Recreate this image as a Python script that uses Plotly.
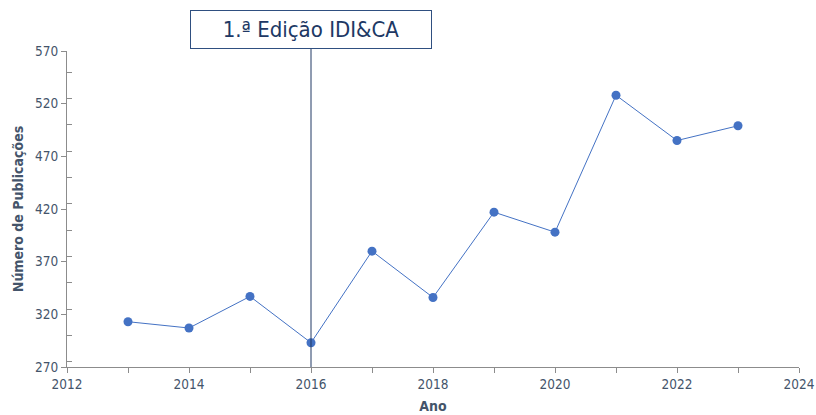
import plotly.graph_objects as go

years = [2013, 2014, 2015, 2016, 2017, 2018, 2019, 2020, 2021, 2022, 2023]
publications = [313, 307, 337, 293, 380, 336, 417, 398, 528, 485, 499]
marker_year = 2016
marker_label = "1.ª Edição IDI&CA"

FONT = "DejaVu Sans Condensed, DejaVu Sans, sans-serif"
TXT = "#44546a"
AX = "#8c8c8c"

fig = go.Figure()
fig.add_trace(go.Scatter(
    x=years, y=publications, mode="lines+markers",
    line=dict(color="#4472c4", width=1),
    marker=dict(color="#4472c4", size=9),
    showlegend=False,
))

fig.add_shape(type="line", xref="x", yref="paper", x0=marker_year, x1=marker_year,
              y0=0, y1=1.01, line=dict(color="#203864", width=1))

fig.add_annotation(
    x=marker_year, xref="x", y=1, yref="paper", yanchor="bottom", yshift=2,
    text=marker_label, showarrow=False,
    font=dict(family=FONT, size=22, color="#203864"),
    bordercolor="#2f4f80", borderwidth=1, borderpad=0,
    bgcolor="white", width=240, height=37,
)

fig.update_layout(
    width=816, height=415,
    margin=dict(l=67, r=17, t=51, b=48),
    paper_bgcolor="white", plot_bgcolor="white",
    font=dict(family=FONT, size=14, color=TXT),
)
fig.update_xaxes(
    range=[2012, 2024], dtick=2, tick0=2012, automargin=False,
    showgrid=False, zeroline=False,
    showline=True, linecolor=AX, linewidth=1,
    ticks="outside", ticklen=5, tickcolor=AX,
    minor=dict(dtick=1, ticks="outside", ticklen=5, tickcolor=AX, showgrid=False),
    tickfont=dict(family=FONT, size=13.5, color=TXT),
    ticklabeloverflow="allow",
    title=dict(text="<b>Ano</b>", font=dict(family=FONT, size=14, color=TXT), standoff=9),
)
fig.update_yaxes(
    range=[270, 570], dtick=50, tick0=270, automargin=False,
    showgrid=False, zeroline=False,
    showline=True, linecolor=AX, linewidth=1,
    ticks="outside", ticklen=5, tickcolor=AX,
    minor=dict(dtick=25, ticks="inside", ticklen=5, tickcolor=AX, showgrid=False),
    tickfont=dict(family=FONT, size=13.5, color=TXT),
    title=dict(text="<b>Número de Publicações</b>", font=dict(family=FONT, size=14, color=TXT), standoff=8),
)

fig.write_html("out.html", config={"displayModeBar": False},
               post_script="document.body.style.margin='0';document.body.style.overflow='hidden';")
